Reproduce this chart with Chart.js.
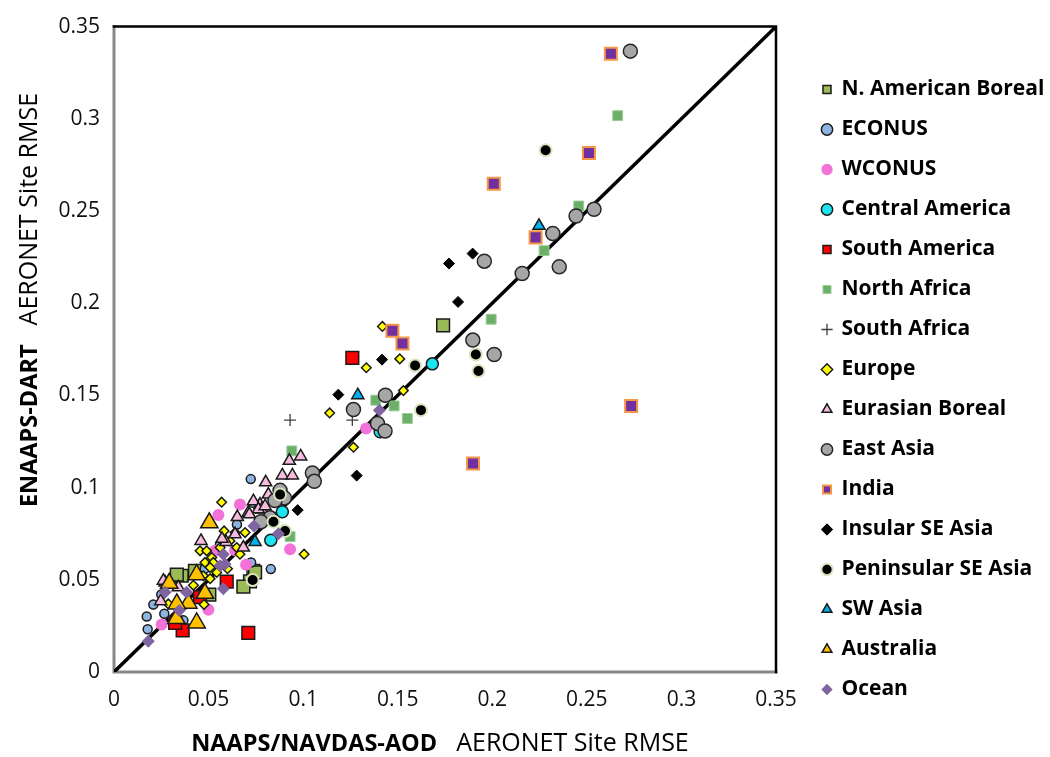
<!DOCTYPE html>
<html>
<head>
<meta charset="utf-8">
<script src="https://cdn.jsdelivr.net/npm/chart.js@4.4.1/dist/chart.umd.min.js"></script>
<style>
    html, body { margin: 0; padding: 0; background: #fff; }
    #wrap { width: 1050px; height: 757px; }
</style>
</head>
<body>
<div id="wrap"><canvas id="rmse-chart" width="1050" height="757"></canvas></div>
<script>
// axis ticks (same on both axes)
const tickLabels = ['0', '0.05', '0.1', '0.15', '0.2', '0.25', '0.3', '0.35'];

// [NAAPS/NAVDAS RMSE, ENAAPS-DART RMSE] per AERONET site, grouped by region
const nAmBoreal = [[0.174, 0.188], [0.0737, 0.0549], [0.0719, 0.0492], [0.0684, 0.0463], [0.0358, 0.0522], [0.0504, 0.042], [0.0428, 0.0549], [0.0332, 0.0528], [0.0746, 0.054]];
const econus = [[0.0723, 0.1046], [0.0725, 0.0594], [0.0829, 0.0558], [0.0208, 0.0366], [0.0266, 0.0316], [0.0173, 0.0301], [0.0367, 0.028], [0.0178, 0.0232], [0.0737, 0.0917], [0.025, 0.042], [0.056, 0.069], [0.065, 0.08], [0.048, 0.056]];
const wconus = [[0.0666, 0.0908], [0.0552, 0.0851], [0.0931, 0.0666], [0.1333, 0.1321], [0.0698, 0.0582], [0.0499, 0.0338], [0.0252, 0.0258], [0.0534, 0.0657], [0.064, 0.066]];
const centralAmerica = [[0.1683, 0.1671], [0.1407, 0.1303], [0.089, 0.0869], [0.0829, 0.0715]];
const southAmerica = [[0.126, 0.1703], [0.0596, 0.049], [0.071, 0.0212], [0.0363, 0.0226], [0.0323, 0.0266], [0.0455, 0.0406]];
const northAfrica = [[0.2663, 0.3017], [0.2457, 0.2527], [0.2274, 0.2285], [0.1994, 0.1913], [0.1384, 0.1474], [0.1481, 0.1443], [0.1551, 0.1375], [0.094, 0.1199], [0.0931, 0.0734]];
const southAfrica = [[0.0931, 0.1366], [0.126, 0.1366]];
const europe = [[0.1419, 0.1874], [0.1511, 0.1698], [0.1334, 0.165], [0.153, 0.1526], [0.114, 0.1405], [0.1266, 0.1219], [0.1005, 0.0639], [0.0569, 0.0921], [0.0582, 0.0765], [0.064, 0.0756], [0.0693, 0.0756], [0.0455, 0.0657], [0.049, 0.0657], [0.0517, 0.0621], [0.0481, 0.0594], [0.0525, 0.0594], [0.0543, 0.054], [0.0508, 0.0567], [0.0613, 0.0711], [0.0649, 0.0675], [0.0666, 0.0639], [0.0561, 0.0675], [0.0472, 0.0522], [0.0508, 0.0506], [0.0476, 0.0366], [0.0287, 0.0369], [0.042, 0.047], [0.06, 0.056]];
const eurasianBoreal = [[0.0927, 0.1145], [0.0987, 0.1169], [0.089, 0.1066], [0.0943, 0.1066], [0.0802, 0.1029], [0.0816, 0.0962], [0.0772, 0.0908], [0.0737, 0.0926], [0.0781, 0.0881], [0.071, 0.0863], [0.0763, 0.0882], [0.0799, 0.0899], [0.0652, 0.084], [0.0592, 0.0705], [0.064, 0.0747], [0.0684, 0.0675], [0.046, 0.0711], [0.0571, 0.0722], [0.034, 0.0459], [0.027, 0.0486], [0.0247, 0.0384], [0.0261, 0.0495], [0.0716, 0.0855]];
const eastAsia = [[0.273, 0.3367], [0.2538, 0.2509], [0.2443, 0.2473], [0.232, 0.2378], [0.1958, 0.2228], [0.2354, 0.2197], [0.2158, 0.2161], [0.1897, 0.18], [0.201, 0.1722], [0.1435, 0.1501], [0.1266, 0.1423], [0.1393, 0.1348], [0.1433, 0.1307], [0.1049, 0.1079], [0.1059, 0.1034], [0.0878, 0.0985], [0.0901, 0.0944], [0.0851, 0.093], [0.0825, 0.0836], [0.0777, 0.0815]];
const india = [[0.2627, 0.3353], [0.2511, 0.2815], [0.2008, 0.2648], [0.2229, 0.2357], [0.1472, 0.1851], [0.1525, 0.1782], [0.2734, 0.1443], [0.1898, 0.1131]];
const insularSEAsia = [[0.1896, 0.2269], [0.1771, 0.2215], [0.1819, 0.2007], [0.1417, 0.1694], [0.1186, 0.1504], [0.1283, 0.1065], [0.0971, 0.0878]];
const peninsularSEAsia = [[0.2282, 0.2829], [0.1913, 0.1722], [0.1927, 0.1632], [0.1592, 0.1662], [0.1623, 0.142], [0.0843, 0.0815], [0.0904, 0.0765], [0.0733, 0.0499], [0.0878, 0.0962]];
const swAsia = [[0.2247, 0.242], [0.1289, 0.1501], [0.0746, 0.0705]];
const australia = [[0.0504, 0.0809], [0.0437, 0.0528], [0.0481, 0.0427], [0.0393, 0.0373], [0.0292, 0.0481], [0.0332, 0.0369], [0.033, 0.029], [0.0437, 0.0266]];
const ocean = [[0.1403, 0.142], [0.0869, 0.075], [0.074, 0.0792], [0.0578, 0.0639], [0.0587, 0.0585], [0.0561, 0.0576], [0.0578, 0.0451], [0.027, 0.0432], [0.0384, 0.0432], [0.0345, 0.0334], [0.0181, 0.0167]];
const oneToOne = [[0, 0], [0.35, 0.35]];

const FONT = '"Open Sans"';

function series(label, points, style) {
    return {
        label,
        data: points.map(p => ({ x: p[0], y: p[1] })),
        showLine: false,
        borderWidth: 1.5,
        borderColor: '#1a1a1a',
        ...style
    };
}

const regions = [
    series('N. American Boreal', nAmBoreal, { pointStyle: 'rect', pointRadius: 9, backgroundColor: '#9BBB59' }),
    series('ECONUS', econus, { pointStyle: 'circle', pointRadius: 4.5, backgroundColor: '#8DB4E2' }),
    series('WCONUS', wconus, { pointStyle: 'circle', pointRadius: 6, backgroundColor: '#F272D8', borderColor: '#F272D8', borderWidth: 0 }),
    series('Central America', centralAmerica, { pointStyle: 'circle', pointRadius: 6, backgroundColor: '#1CE4F0' }),
    series('South America', southAmerica, { pointStyle: 'rect', pointRadius: 9, backgroundColor: '#FF0000' }),
    series('North Africa', northAfrica, { pointStyle: 'rect', pointRadius: 7, backgroundColor: '#6BAF68', borderColor: '#9ccb98', borderWidth: 1 }),
    series('South Africa', southAfrica, { pointStyle: 'cross', pointRadius: 6, backgroundColor: '#404040', borderColor: '#404040', borderWidth: 1.3 }),
    series('Europe', europe, { pointStyle: 'rectRot', pointRadius: 4.8, backgroundColor: '#FFFF00' }),
    series('Eurasian Boreal', eurasianBoreal, { pointStyle: 'triangle', pointRadius: 7, backgroundColor: '#F6BBDE' }),
    series('East Asia', eastAsia, { pointStyle: 'circle', pointRadius: 7, backgroundColor: '#A6A6A6', borderColor: '#262626' }),
    series('India', india, { pointStyle: 'rect', pointRadius: 8.5, backgroundColor: '#7030A0', borderColor: '#F79646', borderWidth: 2 }),
    series('Insular SE Asia', insularSEAsia, { pointStyle: 'rectRot', pointRadius: 5.5, backgroundColor: '#000000', borderColor: '#000000', borderWidth: 1 }),
    series('Peninsular SE Asia', peninsularSEAsia, { pointStyle: 'circle', pointRadius: 6, backgroundColor: '#000000', borderColor: '#D7E4BD', borderWidth: 2 }),
    series('SW Asia', swAsia, { pointStyle: 'triangle', pointRadius: 7, backgroundColor: '#00B0F0' }),
    series('Australia', australia, { pointStyle: 'triangle', pointRadius: 10, backgroundColor: '#FFC000' }),
    series('Ocean', ocean, { pointStyle: 'rectRot', pointRadius: 6.5, backgroundColor: '#8064A2', borderColor: '#8064A2', borderWidth: 0 })
];

// later regions sit on top, like the spreadsheet original
regions.forEach((ds, i) => { ds.order = regions.length - i; });

const diagonal = {
    type: 'line',
    label: '1:1',
    data: oneToOne.map(p => ({ x: p[0], y: p[1] })),
    borderColor: '#000',
    borderWidth: 3.5,
    pointRadius: 0,
    order: 100
};

function drawMixedText(ctx, parts, gap, cx, cy) {
    let total = 0;
    parts.forEach((p, i) => {
        ctx.font = p.font;
        p.w = ctx.measureText(p.text).width;
        total += p.w + (i ? gap : 0);
    });
    let x = cx - total / 2;
    ctx.textBaseline = 'middle';
    ctx.textAlign = 'left';
    parts.forEach(p => {
        ctx.font = p.font;
        ctx.fillText(p.text, x, cy);
        x += p.w + gap;
    });
}

const framePlugin = {
    id: 'frame',
    afterLayout(chart) {
        // push the legend column away from the plot, as in the original
        const lg = chart.legend;
        const w = lg.width;
        lg.left = 804;
        lg.right = lg.left + w;
        lg.top = 60;
    },
    beforeDatasetsDraw(chart) {
        const { ctx, chartArea: a } = chart;
        ctx.save();
        ctx.lineCap = 'square';
        ctx.strokeStyle = '#888';
        ctx.lineWidth = 3;
        ctx.beginPath();
        ctx.moveTo(a.left, a.top);
        ctx.lineTo(a.left, a.bottom);
        ctx.lineTo(a.right, a.bottom);
        ctx.stroke();
        ctx.strokeStyle = '#000';
        ctx.lineWidth = 2.5;
        ctx.beginPath();
        ctx.moveTo(a.left, a.top);
        ctx.lineTo(a.right, a.top);
        ctx.lineTo(a.right, a.bottom);
        ctx.stroke();
        ctx.restore();
    },
    afterDraw(chart) {
        const { ctx } = chart;
        ctx.save();
        ctx.fillStyle = '#000';
        drawMixedText(ctx, [
            { text: 'NAAPS/NAVDAS-AOD', font: `bold 23.5px ${FONT}` },
            { text: 'AERONET Site RMSE', font: `25px ${FONT}` }
        ], 19, 440, 744);
        ctx.translate(30, 300);
        ctx.rotate(-Math.PI / 2);
        drawMixedText(ctx, [
            { text: 'ENAAPS-DART', font: `bold 23.5px ${FONT}` },
            { text: 'AERONET Site RMSE', font: `25px ${FONT}` }
        ], 19, 0, 0);
        ctx.restore();
    }
};

const tickFont = { family: FONT, size: 21 };
const tickText = (v, i) => tickLabels[i];

function axis(extra) {
    return {
        type: 'linear',
        min: 0,
        max: 0.35,
        grid: { display: false, drawTicks: false },
        border: { display: false },
        ...extra
    };
}

const chart = new Chart(document.getElementById('rmse-chart'), {
    type: 'scatter',
    data: { datasets: [...regions, diagonal] },
    options: {
        responsive: false,
        animation: false,
        layout: { padding: { top: 22, left: 0, right: 10, bottom: 0 } },
        scales: {
            x: axis({
                ticks: { stepSize: 0.05, color: '#111', padding: 15, maxRotation: 0, font: tickFont, callback: tickText },
                afterFit: s => { s.height = 85; }
            }),
            y: axis({
                ticks: { stepSize: 0.05, color: '#111', padding: 14, font: tickFont, callback: tickText },
                afterFit: s => { s.width = 114; }
            })
        },
        plugins: {
            tooltip: { enabled: false },
            legend: {
                position: 'right',
                align: 'start',
                labels: {
                    usePointStyle: true,
                    boxWidth: 8,
                    boxHeight: 8,
                    padding: 19,
                    color: '#000',
                    font: { family: FONT, size: 21, weight: 'bold' },
                    filter: item => item.datasetIndex < regions.length,
                    sort: (a, b) => a.datasetIndex - b.datasetIndex
                }
            }
        }
    },
    plugins: [framePlugin]
});

// make the plot area end where the original does
const gap = chart.chartArea.right - 776;
chart.options.layout.padding.right += gap;
chart.update('none');
</script>
</body>
</html>
